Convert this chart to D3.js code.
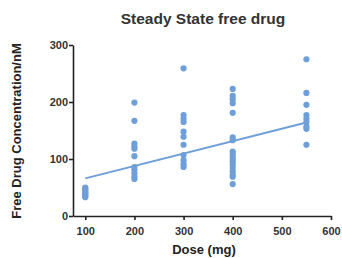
<!DOCTYPE html>
<html lang="en">
<head>
  <meta charset="UTF-8">
  <title>Steady State free drug</title>
  <script src="https://d3js.org/d3.v7.min.js"></script>
  <style>
    body { margin: 0; background: #fff; font-family: Arial, "Liberation Sans", sans-serif; }
    .axis path, .axis line { stroke: #222; stroke-width: 1.6px; }
    .axis text { font-size: 11px; font-weight: bold; fill: #333; }
    .title { font-size: 15.5px; font-weight: bold; fill: #333; }
    .axis-label { font-size: 13px; font-weight: bold; fill: #222; }
  </style>
</head>
<body>
  <svg width="342" height="258"></svg>
  <script>
    const dose100 = [50, 47, 45, 42, 40, 38, 35, 33];
    const dose200 = [199, 167, 127, 122, 118, 105, 86, 81, 75, 69, 65];
    const dose300 = [259, 177, 171, 165, 148, 139, 125, 107, 98, 91, 86];
    const dose400 = [223, 211, 205, 198, 181, 138, 133, 113, 109, 104, 99, 95, 90, 84, 78, 72, 69, 56];
    const dose550 = [275, 216, 195, 177, 171, 165, 157, 153, 125];
    const groups = [[100, dose100], [200, dose200], [300, dose300], [400, dose400], [550, dose550]];
    const fitLine = [[100, 66], [550, 164]];
    const xTicks = [100, 200, 300, 400, 500, 600];
    const yTicks = [0, 100, 200, 300];

    const svg = d3.select('svg');
    const margin = { top: 45, right: 11, bottom: 42, left: 73 };
    const width = 342 - margin.left - margin.right;
    const height = 258 - margin.top - margin.bottom;

    const chart = svg.append('g')
      .attr('transform', `translate(${margin.left},${margin.top})`);

    const xScale = d3.scaleLinear().domain([75, 600]).range([0, width]);
    const yScale = d3.scaleLinear().domain([0, 300]).range([height, 0]);

    const points = groups.flatMap(([d, vals]) => vals.map(v => ({ dose: d, conc: v })));

    chart.append('g')
      .attr('class', 'axis')
      .attr('transform', `translate(0,${height})`)
      .call(d3.axisBottom(xScale).tickValues(xTicks).tickSize(4).tickSizeOuter(0).tickFormat(d3.format('d')))
      .call(g => g.selectAll('text').attr('dy', '1.05em'));

    chart.append('g')
      .attr('class', 'axis')
      .call(d3.axisLeft(yScale).tickValues(yTicks).tickSize(4).tickSizeOuter(0).tickFormat(d3.format('d')))
      .call(g => g.selectAll('text').attr('x', -5));

    chart.append('line')
      .attr('x1', xScale(fitLine[0][0]))
      .attr('y1', yScale(fitLine[0][1]))
      .attr('x2', xScale(fitLine[1][0]))
      .attr('y2', yScale(fitLine[1][1]))
      .attr('stroke', '#6f9fd8')
      .attr('stroke-width', 2);

    chart.selectAll('.dot')
      .data(points)
      .enter()
      .append('circle')
      .attr('class', 'dot')
      .attr('cx', d => xScale(d.dose))
      .attr('cy', d => yScale(d.conc))
      .attr('r', 3.1)
      .attr('fill', '#6f9fd8');

    svg.append('text')
      .attr('class', 'title')
      .attr('x', 203)
      .attr('y', 24)
      .attr('text-anchor', 'middle')
      .text('Steady State free drug');

    svg.append('text')
      .attr('class', 'axis-label')
      .attr('x', 204)
      .attr('y', 254)
      .attr('text-anchor', 'middle')
      .text('Dose (mg)');

    svg.append('text')
      .attr('class', 'axis-label')
      .attr('transform', 'translate(21,131) rotate(-90)')
      .attr('text-anchor', 'middle')
      .text('Free Drug Concentration/nM');
  </script>
</body>
</html>
